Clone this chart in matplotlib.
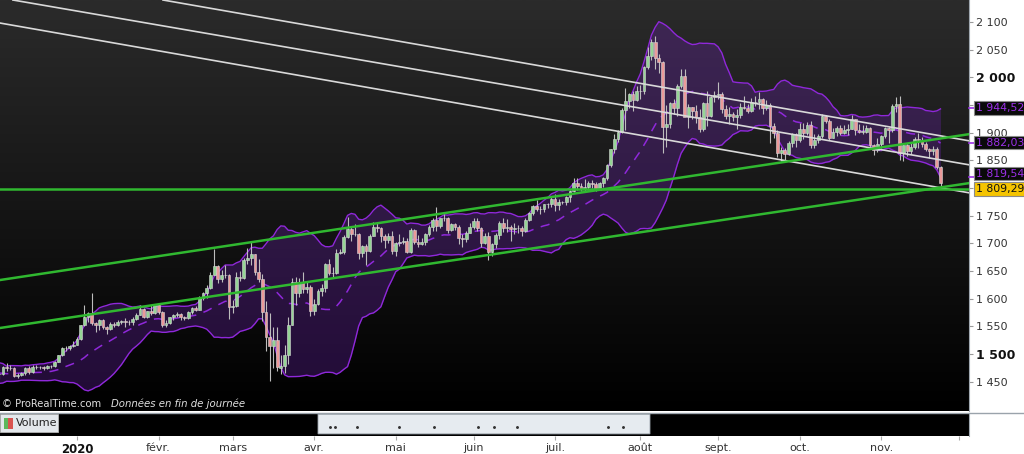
import numpy as np
import pandas as pd
import matplotlib
matplotlib.use("Agg")
import matplotlib.pyplot as plt
from matplotlib.colors import LinearSegmentedColormap
from matplotlib.patches import FancyBboxPatch, Rectangle
from matplotlib.lines import Line2D
import matplotlib.transforms as mtransforms

# ---------------- data (gold, daily candles) ----------------
# closes of Nov 2019, only used to warm up the Bollinger bands (off-screen)
warmup_closes = [1510, 1484, 1491, 1467, 1459, 1456, 1455, 1463, 1471, 1468,
                 1472, 1471, 1473, 1464, 1462, 1455, 1461, 1455, 1457, 1464]

opens = [
    # Dec 2019 (21)
    1464, 1463, 1477, 1474, 1475, 1460, 1462, 1465, 1475, 1468, 1476, 1476, 1477, 1475, 1479,
    1478, 1486, 1498, 1511, 1510, 1515,
    # Jan 2020 (22)
    1517, 1528, 1552, 1566, 1574, 1556, 1552, 1562, 1548, 1545, 1555, 1552, 1557, 1560, 1558,
    1557, 1563, 1571, 1582, 1567, 1577, 1575,
    # Feb (20)
    1589, 1576, 1552, 1556, 1566, 1570, 1572, 1567, 1565, 1576, 1584, 1580, 1601, 1611, 1620,
    1643, 1659, 1635, 1642, 1642,
    # Mar (22)
    1585, 1587, 1640, 1637, 1669, 1673, 1680, 1649, 1635, 1576, 1530, 1515, 1526, 1474, 1478,
    1498, 1553, 1631, 1611, 1630, 1617, 1621,
    # Apr (22)
    1577, 1591, 1613, 1620, 1662, 1647, 1646, 1683, 1685, 1712, 1726, 1716, 1717, 1683, 1695,
    1686, 1714, 1730, 1728, 1713, 1706, 1713,
    # May (21)
    1687, 1700, 1702, 1705, 1685, 1725, 1702, 1698, 1702, 1716, 1730, 1743, 1732, 1745, 1746,
    1725, 1735, 1729, 1710, 1708, 1719,
    # Jun (22)
    1730, 1740, 1727, 1700, 1714, 1684, 1698, 1715, 1737, 1727, 1730, 1726, 1727, 1727, 1723,
    1743, 1754, 1768, 1762, 1762, 1771, 1772,
    # Jul (23)
    1781, 1770, 1775, 1774, 1784, 1795, 1809, 1803, 1798, 1802, 1809, 1808, 1796, 1809, 1818,
    1842, 1871, 1888, 1902, 1941, 1958, 1970, 1959,
    # Aug (21)
    1975, 1976, 2019, 2039, 2063, 2035, 2028, 1911, 1915, 1954, 1944, 1985, 2002, 1929, 1946,
    1940, 1929, 1907, 1954, 1931, 1964,
    # Sep (22)
    1968, 1970, 1943, 1930, 1934, 1929, 1932, 1947, 1945, 1940, 1956, 1955, 1960, 1944, 1950,
    1912, 1900, 1863, 1868, 1862, 1881, 1898,
    # Oct (22)
    1886, 1906, 1900, 1913, 1877, 1887, 1894, 1930, 1922, 1891, 1902, 1908, 1900, 1905, 1907,
    1924, 1904, 1902, 1902, 1908, 1878, 1868,
    # Nov (17)
    1879, 1894, 1909, 1904, 1948, 1951, 1863, 1877, 1866, 1874, 1888, 1887, 1880, 1871, 1866,
    1871, 1838,
]
highs = [
    # Dec 2019
    1465, 1479, 1483, 1480, 1477, 1465, 1468, 1477, 1478, 1480, 1481, 1479, 1478, 1481, 1481,
    1488, 1499, 1512, 1514, 1516, 1524,
    # Jan
    1530, 1553, 1588, 1576, 1611, 1558, 1563, 1564, 1550, 1557, 1558, 1561, 1561, 1565, 1561,
    1566, 1574, 1588, 1584, 1578, 1589, 1591,
    # Feb
    1592, 1578, 1562, 1567, 1573, 1576, 1574, 1569, 1578, 1585, 1586, 1604, 1612, 1624, 1649,
    1689, 1661, 1651, 1660, 1645,
    # Mar
    1597, 1649, 1650, 1674, 1692, 1703, 1681, 1671, 1645, 1596, 1575, 1548, 1548, 1499, 1516,
    1566, 1637, 1640, 1637, 1648, 1632, 1624,
    # Apr
    1600, 1617, 1626, 1664, 1671, 1657, 1690, 1689, 1715, 1747, 1729, 1735, 1718, 1697, 1698,
    1717, 1739, 1738, 1729, 1717, 1718, 1722,
    # May
    1703, 1716, 1712, 1710, 1727, 1726, 1715, 1710, 1718, 1733, 1745, 1765, 1746, 1753, 1748,
    1737, 1736, 1733, 1717, 1722, 1737,
    # Jun
    1745, 1745, 1730, 1719, 1720, 1700, 1718, 1740, 1745, 1744, 1733, 1736, 1733, 1731, 1745,
    1756, 1769, 1779, 1768, 1772, 1773, 1785,
    # Jul
    1789, 1781, 1777, 1786, 1797, 1818, 1818, 1809, 1817, 1812, 1814, 1810, 1811, 1820, 1843,
    1871, 1898, 1905, 1945, 1981, 1972, 1975, 1984,
    # Aug
    1987, 2021, 2055, 2070, 2075, 2043, 2030, 1950, 1956, 1960, 1988, 2015, 2015, 1952, 1947,
    1950, 1943, 1955, 1976, 1966, 1975,
    # Sep
    1992, 1974, 1950, 1946, 1937, 1943, 1953, 1966, 1951, 1962, 1966, 1973, 1962, 1959, 1954,
    1917, 1904, 1874, 1872, 1885, 1899, 1900,
    # Oct
    1917, 1917, 1920, 1921, 1897, 1898, 1933, 1932, 1925, 1909, 1912, 1913, 1913, 1916, 1932,
    1925, 1916, 1913, 1913, 1910, 1880, 1890,
    # Nov
    1896, 1911, 1911, 1951, 1965, 1966, 1882, 1882, 1881, 1892, 1900, 1893, 1883, 1873, 1876,
    1875, 1839,
]
lows = [
    # Dec 2019
    1454, 1462, 1470, 1471, 1459, 1457, 1460, 1462, 1463, 1465, 1473, 1473, 1472, 1473, 1475,
    1477, 1485, 1497, 1506, 1508, 1513,
    # Jan
    1516, 1525, 1551, 1558, 1553, 1540, 1544, 1546, 1536, 1543, 1548, 1550, 1555, 1548, 1553,
    1553, 1561, 1570, 1565, 1565, 1570, 1573,
    # Feb
    1572, 1549, 1548, 1555, 1561, 1567, 1562, 1561, 1563, 1573, 1578, 1579, 1598, 1602, 1618,
    1643, 1628, 1630, 1638, 1564,
    # Mar
    1575, 1585, 1632, 1635, 1662, 1660, 1642, 1630, 1560, 1505, 1451, 1474, 1470, 1463, 1466,
    1482, 1552, 1589, 1603, 1611, 1611, 1568,
    # Apr
    1571, 1589, 1604, 1612, 1643, 1640, 1644, 1681, 1681, 1710, 1705, 1713, 1672, 1676, 1660,
    1684, 1713, 1721, 1703, 1691, 1701, 1680,
    # May
    1677, 1695, 1698, 1682, 1683, 1699, 1693, 1697, 1697, 1713, 1723, 1723, 1728, 1740, 1718,
    1723, 1724, 1699, 1694, 1703, 1718,
    # Jun
    1726, 1723, 1693, 1698, 1670, 1677, 1691, 1708, 1721, 1720, 1705, 1716, 1719, 1714, 1720,
    1740, 1752, 1758, 1753, 1757, 1764, 1766,
    # Jul
    1758, 1760, 1771, 1770, 1775, 1792, 1797, 1795, 1794, 1796, 1800, 1795, 1796, 1802, 1815,
    1838, 1864, 1883, 1900, 1905, 1944, 1939, 1957,
    # Aug
    1960, 1970, 2016, 2031, 2015, 2007, 1863, 1874, 1909, 1934, 1931, 1981, 1930, 1908, 1925,
    1917, 1901, 1903, 1912, 1929, 1956,
    # Sep
    1960, 1936, 1924, 1916, 1922, 1907, 1927, 1942, 1936, 1938, 1948, 1942, 1933, 1941, 1882,
    1891, 1856, 1848, 1850, 1860, 1874, 1874,
    # Oct
    1883, 1889, 1896, 1873, 1873, 1882, 1890, 1917, 1886, 1890, 1894, 1895, 1897, 1896, 1906,
    1895, 1899, 1897, 1899, 1874, 1860, 1865,
    # Nov
    1872, 1890, 1882, 1902, 1938, 1850, 1849, 1858, 1861, 1871, 1872, 1874, 1867, 1855, 1860,
    1834, 1800,
]
closes = [
    # Dec 2019
    1463, 1477, 1474, 1475, 1460, 1462, 1465, 1475, 1468, 1476, 1476, 1477, 1475, 1479, 1478,
    1486, 1498, 1511, 1510, 1515, 1517,
    # Jan
    1528, 1552, 1566, 1574, 1556, 1552, 1562, 1548, 1545, 1555, 1552, 1557, 1560, 1558, 1557,
    1563, 1571, 1582, 1567, 1577, 1575, 1589,
    # Feb
    1576, 1552, 1556, 1566, 1570, 1572, 1567, 1565, 1576, 1584, 1580, 1601, 1611, 1620, 1643,
    1659, 1635, 1642, 1642, 1585,
    # Mar
    1587, 1640, 1637, 1669, 1673, 1680, 1649, 1635, 1576, 1530, 1515, 1526, 1477, 1478, 1498,
    1553, 1631, 1611, 1630, 1617, 1621, 1577,
    # Apr
    1591, 1613, 1620, 1662, 1647, 1646, 1683, 1685, 1712, 1726, 1716, 1717, 1683, 1695, 1686,
    1714, 1730, 1728, 1713, 1706, 1713, 1687,
    # May
    1700, 1702, 1705, 1685, 1725, 1702, 1698, 1702, 1716, 1730, 1743, 1732, 1745, 1746, 1725,
    1735, 1729, 1710, 1708, 1719, 1730,
    # Jun
    1740, 1727, 1700, 1714, 1684, 1698, 1715, 1737, 1727, 1730, 1726, 1727, 1727, 1723, 1743,
    1754, 1768, 1762, 1762, 1771, 1772, 1781,
    # Jul
    1770, 1775, 1774, 1784, 1795, 1809, 1803, 1798, 1802, 1809, 1808, 1796, 1809, 1818, 1842,
    1871, 1888, 1902, 1941, 1958, 1970, 1959, 1975,
    # Aug
    1976, 2019, 2039, 2063, 2035, 2028, 1911, 1915, 1954, 1944, 1985, 2002, 1929, 1946, 1940,
    1929, 1907, 1954, 1931, 1964, 1968,
    # Sep
    1970, 1943, 1930, 1934, 1929, 1932, 1947, 1945, 1940, 1956, 1955, 1960, 1944, 1950, 1912,
    1900, 1863, 1868, 1862, 1881, 1898, 1886,
    # Oct
    1906, 1900, 1913, 1877, 1887, 1894, 1930, 1922, 1891, 1902, 1908, 1900, 1905, 1907, 1924,
    1904, 1902, 1902, 1908, 1878, 1868, 1879,
    # Nov
    1894, 1909, 1904, 1948, 1951, 1863, 1877, 1866, 1874, 1888, 1887, 1880, 1871, 1866, 1871,
    1838, 1809.29,
]

# hand-drawn trend lines: (position, price) pairs of two points each
white_lines = [((23.2, 2139.8), (241.0, 1885.0)),
               ((-17.3, 2139.8), (241.0, 1841.6)),
               ((-20.8, 2098.2), (241.0, 1791.0))]
green_lines = [((-20.8, 1633.7), (241.0, 1897.6)),
               ((-20.8, 1547.0), (241.0, 1809.1)),
               ((-20.8, 1798.0), (241.0, 1798.0))]

month_starts = ['2020-01-02', '2020-02-03', '2020-03-02', '2020-04-01', '2020-05-01',
                '2020-06-01', '2020-07-01', '2020-08-03', '2020-09-01', '2020-10-01',
                '2020-11-02', '2020-12-01']
month_labels = ['2020', 'févr.', 'mars', 'avr.', 'mai', 'juin', 'juil.', 'août',
                'sept.', 'oct.', 'nov.', '']

price_ticks = [1450, 1500, 1550, 1600, 1650, 1700, 1750, 1800, 1850, 1900, 1950, 2000, 2050, 2100]
last_labels = ['1 944,52', '1 882,03', '1 819,54', '1 809,29']
last_values = [1944.52, 1882.03, 1819.54, 1809.29]

# ---------------- calendar / positions ----------------
cal = pd.bdate_range('2019-12-02', '2020-12-31').drop(
    pd.to_datetime(['2019-12-25', '2020-01-01', '2020-12-25']))
origin = cal.get_loc(pd.Timestamp('2020-01-02'))
n = min(len(opens), len(highs), len(lows), len(closes))
o = np.array(opens[:n], float)
h = np.array(highs[:n], float)
l = np.array(lows[:n], float)
c = np.array(closes[:n], float)
x = np.arange(n) - origin
tick_pos = [cal.get_loc(pd.Timestamp(d)) - origin for d in month_starts]

# Bollinger bands (20, 2)
allc = pd.Series(warmup_closes + list(c))
mid = allc.rolling(20).mean().values[len(warmup_closes):]
sd = allc.rolling(20).std(ddof=0).values[len(warmup_closes):]
upper = mid + 2 * sd
lower = mid - 2 * sd

# ---------------- figure ----------------
W, H = 1024, 454
fig = plt.figure(figsize=(W / 100, H / 100), dpi=100, facecolor='white')
plt.rcParams['font.family'] = ['DejaVu Sans']

plot_right = 969
main_bottom = 411
ax = fig.add_axes([0, (H - main_bottom) / H, plot_right / W, main_bottom / H])
vax = fig.add_axes([0, (H - 436) / H, plot_right / W, (436 - 413) / H])

xlim = (-20.78, 240.69)
ylim = (1397.0, 2139.8)
ax.set_xlim(*xlim)
ax.set_ylim(*ylim)
px_per_unit = (main_bottom / (ylim[1] - ylim[0]))

# gradient background
cmap = LinearSegmentedColormap.from_list('bg', ['#000000', '#2b2b2b'])
grad = np.linspace(0, 1, 256).reshape(-1, 1)
ax.imshow(grad, extent=[xlim[0], xlim[1], ylim[0], ylim[1]], origin='lower',
          aspect='auto', cmap=cmap, zorder=0)

# Bollinger
purple = '#8f28da'
ax.fill_between(x, lower, upper, color='#6f22b5', alpha=0.30, lw=0, zorder=1)
ax.plot(x, upper, color=purple, lw=1.0, zorder=2)
ax.plot(x, lower, color=purple, lw=1.0, zorder=2)
ax.plot(x, mid, color=purple, lw=1.1, ls=(0, (6, 5)), zorder=2)

# candles
up = c >= o
ax.vlines(x, l, h, color='#bdbdbd', lw=0.8, zorder=3)
body_h = np.where(np.abs(c - o) < 0.8, 0.8, c - o)
cols = np.where(up, '#96d596', '#eb9a9a')
ax.bar(x, body_h, bottom=o, width=0.74, color=cols, edgecolor='#d8d8d8',
       linewidth=0.4, zorder=3.5)

# trend lines
for p1, p2 in white_lines:
    ax.axline(p1, p2, color='#d9d9d9', lw=1.2, zorder=4)
for p1, p2 in green_lines:
    ax.axline(p1, p2, color='#30b830', lw=1.8, zorder=5)

# axes styling
for s in ['left', 'top', 'bottom']:
    ax.spines[s].set_visible(False)
ax.spines['right'].set_color('#a0a8b0')
ax.tick_params(axis='x', bottom=False, labelbottom=False)
ax.yaxis.tick_right()
ax.set_yticks(price_ticks)
ylabels = []
for t in price_ticks:
    if t in (1800, 1950):
        ylabels.append('')
    else:
        ylabels.append(f'{t // 1000} {t % 1000:03d}')
ax.set_yticklabels(ylabels)
ax.tick_params(axis='y', direction='out', length=3, color='#9a9a9a',
               labelsize=8, labelcolor='#333333', pad=2)
for lab, t in zip(ax.get_yticklabels(), price_ticks):
    if t in (1500, 2000):
        lab.set_fontweight('bold')
        lab.set_fontsize(9)
        lab.set_color('#111111')

# last value boxes (the two lowest are nudged apart so they do not overlap)
trans = mtransforms.blended_transform_factory(ax.transAxes, ax.transData)
label_shift_px = [0, 0, 3.5, -6]          # + = move up
for txt, val, sh in zip(last_labels, last_values, label_shift_px):
    yy = val + sh / px_per_unit
    if txt == last_labels[-1]:
        fc, tc = '#f5c400', '#111111'
    else:
        fc, tc = '#0a0a0a', '#9b30e8'
        ax.plot([1.0, 1.006], [val, val], transform=trans, color=tc, lw=1.2,
                clip_on=False, zorder=9)
    ax.text(1.007, yy, txt, transform=trans, ha='left', va='center', fontsize=7.8,
            color=tc, zorder=10, clip_on=False,
            bbox=dict(boxstyle='square,pad=0.15', fc=fc, ec='#8a8a8a', lw=0.8))

# watermark
ax.text(0.002, 0.006, '© ProRealTime.com', transform=ax.transAxes, color='#e0e0e0',
        fontsize=7.2, va='bottom', ha='left', zorder=6)
ax.text(0.1145, 0.006, 'Données en fin de journée', transform=ax.transAxes,
        color='#e0e0e0', fontsize=7.3, style='italic', va='bottom', ha='left', zorder=6)

# ---------------- volume panel ----------------
vax.set_facecolor('#000000')
vax.set_xlim(*xlim)
vax.set_ylim(0, 1)
vax.set_yticks([])
for s in ['left', 'top', 'bottom']:
    vax.spines[s].set_visible(False)
vax.spines['right'].set_color('#a0a8b0')
vax.set_xticks(tick_pos)
vax.set_xticklabels(month_labels)
vax.tick_params(axis='x', direction='out', length=3, color='#aaaaaa', labelsize=8,
                labelcolor='#333333', pad=2)
for lab, t in zip(vax.get_xticklabels(), month_labels):
    if t == '2020':
        lab.set_fontweight('bold')
        lab.set_fontsize(8.5)
        lab.set_color('#111111')

# 'Volume' label
vax.add_patch(FancyBboxPatch((0.0, 0.17), 0.06, 0.78, boxstyle='square,pad=0',
                             transform=vax.transAxes, fc='#e3e7eb', ec='#b5b5b5',
                             lw=0.6, zorder=3))
vax.add_patch(Rectangle((0.004, 0.32), 0.0045, 0.45, transform=vax.transAxes,
                        fc='#5cb85c', ec='none', zorder=4))
vax.add_patch(Rectangle((0.0085, 0.32), 0.0045, 0.45, transform=vax.transAxes,
                        fc='#d9534f', ec='none', zorder=4))
vax.text(0.016, 0.56, 'Volume', transform=vax.transAxes, fontsize=8, color='#222222',
         va='center', ha='left', zorder=5)

# navigator
vax.add_patch(FancyBboxPatch((318 / plot_right, 0.09), (650 - 318) / plot_right, 0.86,
                             boxstyle='round,pad=0,rounding_size=0.003',
                             transform=vax.transAxes, fc='#e6ebf0', ec='#9aa3ab',
                             lw=0.6, zorder=3))
dots_px = [330, 335, 357, 399, 434, 478, 494, 517, 608, 623]
vax.scatter([d / plot_right for d in dots_px], [0.4] * len(dots_px), s=1.2,
            color='#333333', transform=vax.transAxes, zorder=4)

# separator line between panels
fig.add_artist(Line2D([0, 1], [(H - 412.5) / H] * 2, transform=fig.transFigure,
                      color='#9aa3ab', lw=1.0))

fig.savefig('out.png', dpi=100, facecolor='white')
